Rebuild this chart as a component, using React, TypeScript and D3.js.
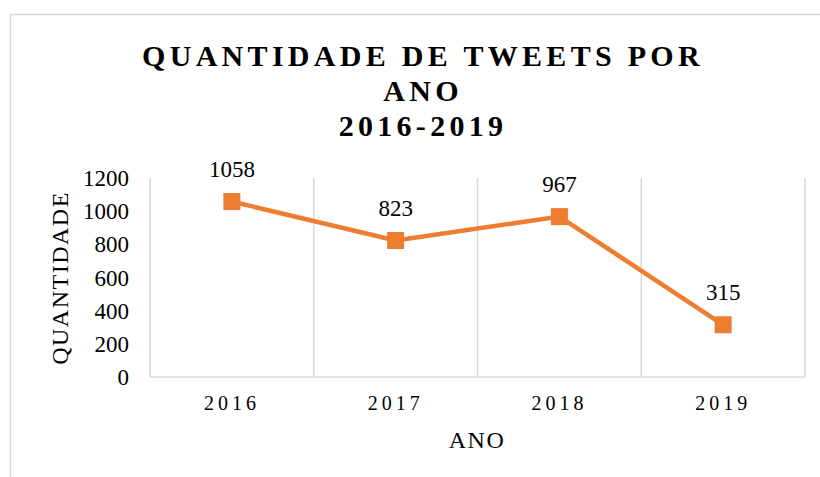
import React, { useEffect, useRef } from "react";
import * as d3 from "d3";

// chart data
const years = ["2016", "2017", "2018", "2019"];
const tweetCounts = [1058, 823, 967, 315];
const yTicks = [0, 200, 400, 600, 800, 1000, 1200];
const titleLines = ["QUANTIDADE DE TWEETS POR", "ANO", "2016-2019"];

const App: React.FC = () => {
  const svgRef = useRef<SVGSVGElement | null>(null);

  useEffect(() => {
    const width = 820;
    const height = 477;
    const font = "'Liberation Serif', 'Times New Roman', Times, serif";
    const orange = "#ed7d31";
    const grid = "#d9d9d9";

    const plot = { left: 150, right: 805, top: 178, bottom: 377 };

    const svg = d3.select(svgRef.current);
    svg.selectAll("*").remove();

    svg.attr("width", width).attr("height", height);

    // outer chart border
    svg
      .append("rect")
      .attr("x", 10.5)
      .attr("y", 14.5)
      .attr("width", 820)
      .attr("height", 480)
      .attr("fill", "white")
      .attr("stroke", grid)
      .attr("stroke-width", 1.5);

    // title
    svg
      .append("g")
      .selectAll("text")
      .data(titleLines)
      .enter()
      .append("text")
      .attr("x", 423)
      .attr("y", (d, i) => 66 + i * 35)
      .attr("text-anchor", "middle")
      .style("font-family", font)
      .style("font-weight", "bold")
      .style("font-size", "30px")
      .style("letter-spacing", "4.3px")
      .text((d) => d);

    // scales
    const xScale = d3
      .scaleBand()
      .domain(years)
      .range([plot.left, plot.right])
      .padding(0);

    const yScale = d3
      .scaleLinear()
      .domain([0, 1200])
      .range([plot.bottom, plot.top]);

    const xCenter = (d: string) => xScale(d)! + xScale.bandwidth() / 2;

    // vertical gridlines at category boundaries
    const boundaries = years.map((d) => xScale(d)!).concat([plot.right]);
    svg
      .append("g")
      .selectAll("line")
      .data(boundaries)
      .enter()
      .append("line")
      .attr("x1", (d) => d)
      .attr("x2", (d) => d)
      .attr("y1", plot.top)
      .attr("y2", plot.bottom)
      .attr("stroke", grid)
      .attr("stroke-width", 1.5);

    // x axis line
    svg
      .append("line")
      .attr("x1", plot.left)
      .attr("x2", plot.right)
      .attr("y1", plot.bottom)
      .attr("y2", plot.bottom)
      .attr("stroke", grid)
      .attr("stroke-width", 1.5);

    // y tick labels
    svg
      .append("g")
      .selectAll("text")
      .data(yTicks)
      .enter()
      .append("text")
      .attr("x", 129)
      .attr("y", (d) => yScale(d))
      .attr("dy", "0.35em")
      .attr("text-anchor", "end")
      .style("font-family", font)
      .style("font-size", "23px")
      .text((d) => d);

    // x tick labels
    svg
      .append("g")
      .selectAll("text")
      .data(years)
      .enter()
      .append("text")
      .attr("x", (d) => xCenter(d))
      .attr("y", 410)
      .attr("text-anchor", "middle")
      .style("font-family", font)
      .style("font-size", "20px")
      .style("letter-spacing", "4px")
      .text((d) => d);

    // axis titles
    svg
      .append("text")
      .attr("x", 477)
      .attr("y", 448)
      .attr("text-anchor", "middle")
      .style("font-family", font)
      .style("font-size", "24px")
      .style("letter-spacing", "1.5px")
      .text("ANO");

    svg
      .append("text")
      .attr("transform", `translate(68, 278) rotate(-90)`)
      .attr("text-anchor", "middle")
      .style("font-family", font)
      .style("font-size", "24px")
      .style("letter-spacing", "1.5px")
      .text("QUANTIDADE");

    // line
    const line = d3
      .line<number>()
      .x((d, i) => xCenter(years[i]))
      .y((d) => yScale(d));

    svg
      .append("path")
      .datum(tweetCounts)
      .attr("d", line)
      .attr("fill", "none")
      .attr("stroke", orange)
      .attr("stroke-width", 4.5)
      .attr("stroke-linejoin", "round");

    // markers
    const size = 17;
    svg
      .append("g")
      .selectAll("rect")
      .data(tweetCounts)
      .enter()
      .append("rect")
      .attr("x", (d, i) => xCenter(years[i]) - size / 2)
      .attr("y", (d) => yScale(d) - size / 2)
      .attr("width", size)
      .attr("height", size)
      .attr("fill", orange);

    // data labels
    svg
      .append("g")
      .selectAll("text")
      .data(tweetCounts)
      .enter()
      .append("text")
      .attr("x", (d, i) => xCenter(years[i]))
      .attr("y", (d) => yScale(d) - 25)
      .attr("text-anchor", "middle")
      .style("font-family", font)
      .style("font-size", "23px")
      .text((d) => d);
  }, []);

  return (
    <div>
      <svg
        ref={svgRef}
        style={{ position: "absolute", left: 0, top: 0, display: "block" }}
      ></svg>
    </div>
  );
};

export default App;
